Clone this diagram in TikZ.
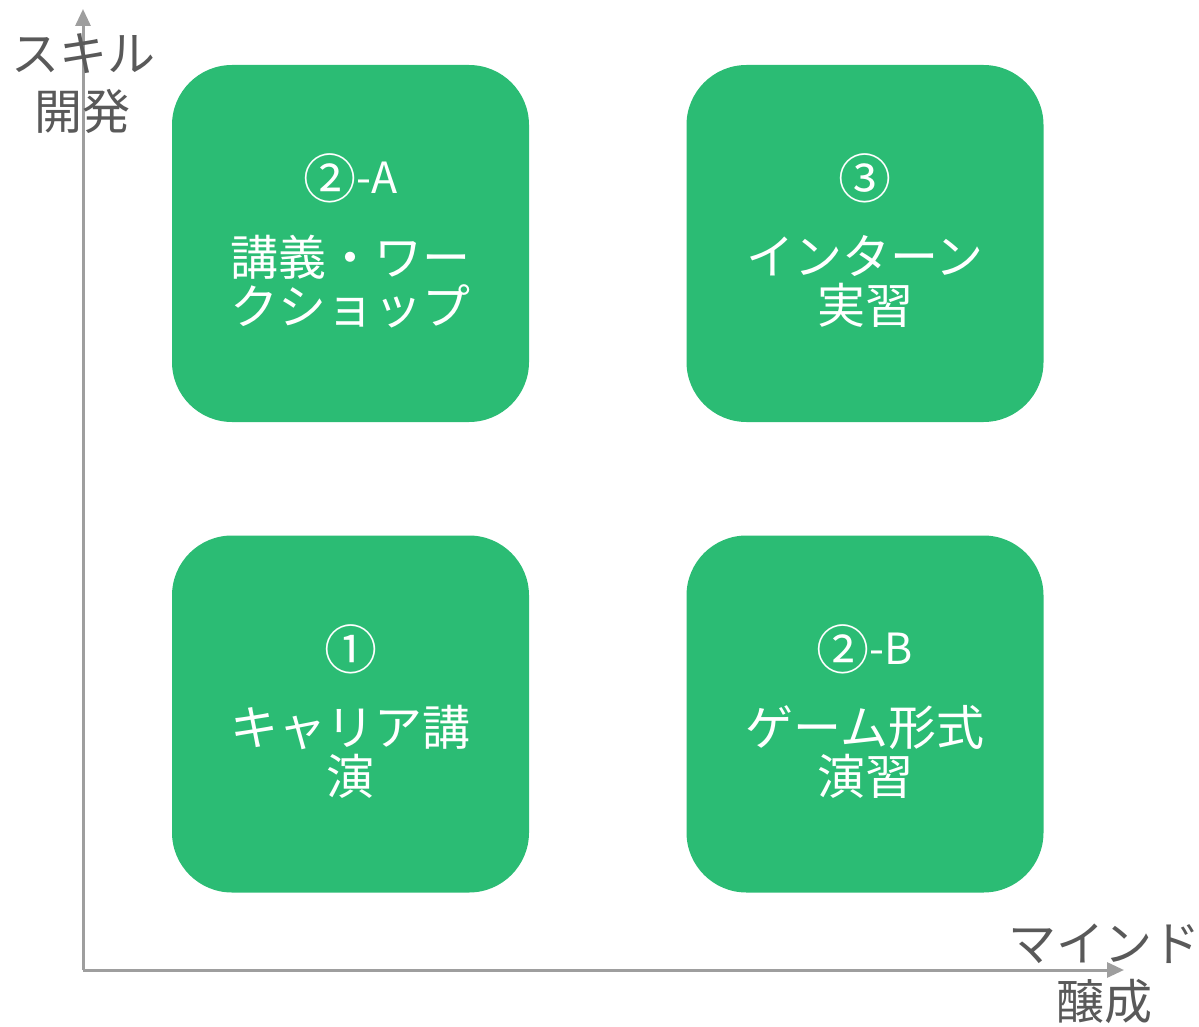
\documentclass[tikz,border=0pt]{standalone}
\usepackage{fontspec}
\setmainfont{Noto Sans CJK JP}
\usetikzlibrary{arrows.meta}
\definecolor{boxgreen}{HTML}{2BBC74}
\definecolor{axisgray}{HTML}{9E9E9E}
\definecolor{labelgray}{HTML}{595959}
\newcommand{\bignum}[1]{{\fontsize{53}{53}\selectfont\raisebox{-5pt}{#1}}}
\begin{document}
\begin{tikzpicture}[x=1pt,y=-1pt,
  card/.style={fill=boxgreen,draw=none,rounded corners=60pt,minimum width=357pt,minimum height=357pt,inner sep=0pt},
  cardtitle/.style={text=white,font=\fontsize{43}{48}\selectfont,inner sep=0pt,anchor=base},
  cardbody/.style={text=white,font=\fontsize{48}{49}\selectfont,align=center,inner sep=0pt},
  axislabel/.style={text=labelgray,font=\fontsize{48}{58}\selectfont,align=center,inner sep=0pt},
  axis/.style={draw=axisgray,line width=3pt,-{Triangle[length=17pt,width=15pt]}}]
\useasboundingbox (0,0) rectangle (1199,1027);
\coordinate (O) at (83,970);
\coordinate (ytip) at (83,9);
\coordinate (xtip) at (1124,970);
\draw[axis] (O) -- (ytip);
\draw[axis] (O) -- (xtip);
\node[axislabel] (ylab) at (83,84) {スキル\\開発};
\node[axislabel] (xlab) at (1104,974) {マインド\\醸成};

\node[card] (tl) at (350.5,243.5) {};
\node[card] (tr) at (865,243.5) {};
\node[card] (bl) at (350.5,714) {};
\node[card] (br) at (865,714) {};

\node[cardtitle] (tlt) at ([yshift=50pt]tl.center) {\bignum{②}-A};
\node[cardbody] (tlb) at ([yshift=-38pt]tl.center) {講義・ワー\\クショップ};
\node[cardtitle] (trt) at ([yshift=50pt]tr.center) {\bignum{③}};
\node[cardbody] (trb) at ([yshift=-38pt]tr.center) {インターン\\実習};
\node[cardtitle] (blt) at ([yshift=50pt]bl.center) {\bignum{①}};
\node[cardbody] (blb) at ([yshift=-38pt]bl.center) {キャリア講\\演};
\node[cardtitle] (brt) at ([yshift=50pt]br.center) {\bignum{②}-B};
\node[cardbody] (brb) at ([yshift=-38pt]br.center) {ゲーム形式\\演習};
\end{tikzpicture}
\end{document}
